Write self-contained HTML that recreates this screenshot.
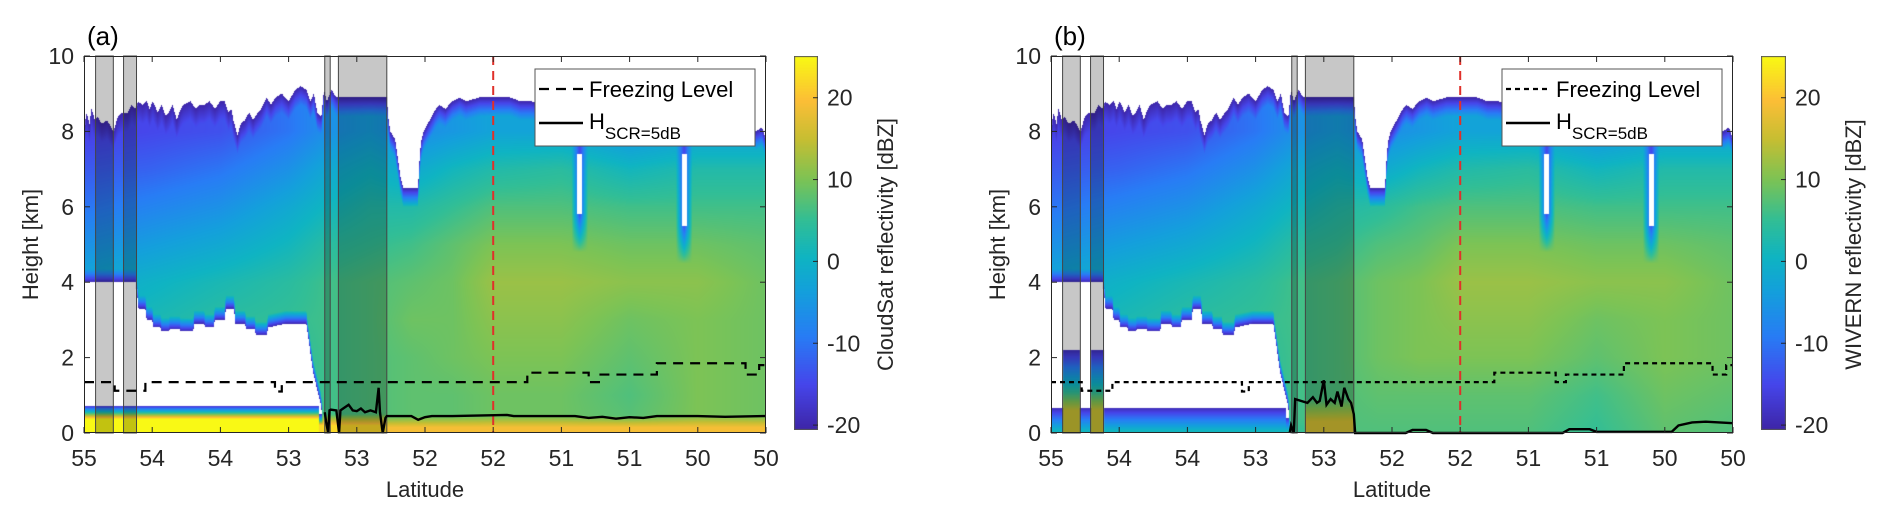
<!DOCTYPE html>
<html><head><meta charset="utf-8">
<style>
html,body{margin:0;padding:0;background:#fff;}
#wrap{position:relative;width:1892px;height:521px;overflow:hidden;font-family:"Liberation Sans",Arial,sans-serif;}
canvas{position:absolute;}
svg{position:absolute;left:0;top:0;}
</style></head>
<body>
<div id="wrap">
<canvas id="cvA"></canvas>
<canvas id="cvB"></canvas>
<canvas id="cbA"></canvas>
<canvas id="cbB"></canvas>
<svg id="sv" width="1892" height="521"></svg>
</div>
<script>
// ---------- data ----------
const xTickLat = [55,54.5,54,53.5,53,52.5,52,51.5,51,50.5,50];
const xTickLabels = ["55","54","54","53","53","52","52","51","51","50","50"];
const yTicks = [0,2,4,6,8,10];
const cbTicks = [20,10,0,-10,-20];
const redLineLat = 52;
// grey excluded bands [start, end] in latitude
const bandStart = [54.915,54.71,53.235,53.135];
const bandEnd   = [54.785,54.615,53.195,52.78];
// cloud top
const topLat = [55,54.98,54.96,54.945,54.92,54.9,54.87,54.83,54.785,54.75,54.72,54.68,54.65,54.62,54.605,54.57,54.54,54.52,54.495,54.46,54.43,54.4,54.38,54.35,54.32,54.29,54.27,54.22,54.18,54.15,54.12,54.08,54.04,54.0,53.97,53.94,53.92,53.905,53.89,53.875,53.85,53.82,53.79,53.76,53.745,53.7,53.66,53.63,53.595,53.55,53.5,53.45,53.41,53.37,53.34,53.315,53.29,53.26,53.24,53.22,53.185,53.15,53.11,52.78,52.77,52.755,52.72,52.7,52.68,52.66,52.55,52.545,52.53,52.51,52.48,52.45,52.42,52.395,52.35,52.3,52.245,52.2,52.1,52.0,51.9,51.875,51.8,51.725,51.6,51.5,50.75,50.2,50.12,50.075,50.03,50];
const topH   = [8.1,8.5,8.2,8.6,8.3,8.4,8.2,8.3,8.0,8.4,8.5,8.5,8.7,8.6,8.8,8.7,8.8,8.6,8.8,8.5,8.7,8.4,8.5,8.7,8.3,8.6,8.7,8.8,8.6,8.7,8.7,8.8,8.6,8.8,8.8,8.5,8.6,8.3,8.1,7.9,8.2,8.3,8.5,8.3,8.4,8.6,8.9,8.7,8.9,9.0,8.8,9.1,9.2,9.1,8.8,9.0,8.5,8.4,9.1,8.8,9.1,8.9,8.9,8.9,8.4,8.0,7.8,7.3,6.8,6.5,6.5,7.0,7.7,8.0,8.2,8.4,8.6,8.7,8.6,8.8,8.9,8.8,8.9,8.9,8.9,8.9,8.8,8.8,8.7,8.6,8.6,8.2,8.3,8.0,8.1,7.8];
// cloud base
const baseLat = [55,54.62,54.6,54.55,54.54,54.5,54.49,54.44,54.43,54.38,54.37,54.3,54.29,54.2,54.19,54.12,54.11,54.05,54.04,53.97,53.96,53.9,53.89,53.82,53.81,53.75,53.74,53.66,53.65,53.52,53.37,53.32,53.26,53.25,50];
const baseH   = [4.0,4.0,3.3,3.3,3.0,3.0,2.8,2.8,2.7,2.7,2.75,2.75,2.7,2.7,2.9,2.9,2.8,2.8,3.0,3.0,3.3,3.3,2.9,2.9,2.75,2.75,2.6,2.6,2.8,2.9,2.9,1.6,0.7,0,0];
// holes in cloud
const holeLat = [51.365,50.6];
const holeTop = [7.4,7.4];
const holeBot = [5.8,5.5];
// reflectivity knots
const zKnotH = [9,8,7,6,5,4,3,2,1,0];
const zLat = [55,54.5,54,53.5,53.2,52.9,52.6,52.3,52,51.5,51,50.5,50];
const zA = [
 [-16,-16,-13,-10,-6,-2,0,0,0,0],
 [-15,-15,-12,-8,-4,0,2,2,2,2],
 [-14,-14,-10,-6,-2,2,4,4,4,4],
 [-10,-10,-6,-2,1,4,5,4,4,4],
 [-6,-6,-2,1,4,6,6,6,6,6],
 [-4,-4,0,3,5,7,7,7,7,7],
 [-7,-7,-2,3,6,8,9,8,8,8],
 [-5,-5,1,5,8,9,9,9,8,8],
 [-3,-3,3,7,10,12,11,10,9,9],
 [-3,-3,4,7,10,12,11,10,9,9],
 [-6,-6,1,6,9,11,9,8,7,8],
 [-4,-4,3,6,9,11,10,10,10,10],
 [-4,-4,3,6,8,9,9,9,9,9]];
const zB = [
 [-16,-16,-13,-10,-6,-2,0,0,0,0],
 [-15,-15,-12,-8,-4,0,2,2,2,2],
 [-14,-14,-10,-6,-2,2,4,4,4,4],
 [-10,-10,-6,-2,1,4,5,4,4,4],
 [-6,-6,-2,1,4,6,6,6,6,6],
 [-4,-4,0,3,5,7,7,7,7,7],
 [-7,-7,-2,4,7,9,9,9,8,7],
 [-5,-5,1,6,8,10,10,10,8,7],
 [-3,-3,3,7,10,12,11,10,8,7],
 [-3,-3,4,7,10,12,11,10,8,7],
 [-6,-6,1,6,9,11,9,8,6,5],
 [-4,-4,3,6,9,11,10,10,9,8],
 [-4,-4,3,6,8,9,9,9,8,7]];
// surface / clutter (step functions starting at given latitude)
const clutLatA = [55,53.28,52.78];
const clutTopA = [0.72,0.5,0.45];
const clutValA = [25,22,19];
const clutTrA  = [0.35,0.3,0.3];
const clutLatB = [55,54.915,54.785,54.71,54.615,53.28,53.135,52.78];
const clutTopB = [0.65,2.2,0.65,2.2,0.65,0.4,0.9,0];
const clutValB = [1,15,1,15,1,5,16,0];
const clutTrB  = [0.6,1.6,0.6,1.6,0.6,0.4,0.6,0.1];
// freezing level (steps)
const flLat = [55,54.775,54.55,53.6,53.55,51.75,51.3,51.225,50.8,50.15,50.05,50];
const flH   = [1.35,1.12,1.35,1.1,1.35,1.6,1.35,1.55,1.85,1.55,1.8,1.8];
// H_SCR=5dB lines
const hLatA = [53.235,53.225,53.21,53.2,53.19,53.15,53.13,53.12,53.1,53.06,53.03,53.0,52.97,52.94,52.9,52.86,52.84,52.83,52.81,52.79,52.78,52.6,52.55,52.5,52.45,52.3,51.9,51.85,51.4,51.3,51.2,51.1,51.0,50.9,50.8,50.5,50.3,50.0];
const hValA = [0.55,0.3,0.0,0.6,0.62,0.6,0.0,0.6,0.65,0.75,0.6,0.58,0.65,0.55,0.6,0.55,1.2,0.55,0.0,0.4,0.45,0.45,0.35,0.42,0.45,0.45,0.48,0.45,0.45,0.4,0.43,0.38,0.42,0.4,0.45,0.45,0.43,0.45];
const hLatB = [53.25,53.24,53.22,53.21,53.12,53.08,53.05,53.03,53.0,52.98,52.95,52.92,52.9,52.87,52.85,52.82,52.8,52.78,52.77,52.4,52.35,52.25,52.2,51.25,51.2,51.05,51.0,50.45,50.4,50.3,50.2,50.0];
const hValB = [0.0,0.2,0.0,0.9,0.8,0.95,0.8,0.85,1.4,0.75,0.9,0.8,1.1,0.7,1.2,0.9,0.8,0.5,0.0,0.0,0.08,0.08,0.0,0.0,0.1,0.1,0.03,0.03,0.2,0.28,0.3,0.26];

// ---------- layout ----------
const T=56, B=433;
const PA={L:84,R:766,cbL:794,cbR:818,zmin:-20.6,zmax:25.1};
const PB={L:1051,R:1733,cbL:1761,cbR:1786,zmin:-20.6,zmax:25.1};
function xs(P,lat){return P.L+(55-lat)/5*(P.R-P.L);}
function ys(h){return B-h/10*(B-T);}
function latOf(P,x){return 55-(x-P.L)/(P.R-P.L)*5;}

const parula=[[0,62,38,168],[0.12,70,70,235],[0.25,40,125,245],[0.37,20,160,220],[0.46,15,180,195],[0.56,50,190,150],[0.67,125,195,85],[0.78,200,190,50],[0.88,252,190,55],[1,249,250,20]];
function cmap(t){t=Math.max(0,Math.min(1,t));for(let i=1;i<parula.length;i++){if(t<=parula[i][0]){const a=parula[i-1],b=parula[i],f=(t-a[0])/(b[0]-a[0]);return [a[1]+(b[1]-a[1])*f,a[2]+(b[2]-a[2])*f,a[3]+(b[3]-a[3])*f];}}return parula[parula.length-1].slice(1);}
function interpDesc(xa,ya,x){
  if(x>=xa[0])return ya[0]; for(let i=1;i<xa.length;i++){if(x>=xa[i]){const f=(xa[i-1]-x)/(xa[i-1]-xa[i]);return ya[i-1]+(ya[i]-ya[i-1])*f;}} return ya[ya.length-1];}
function stepIdx(xa,x){let k=0;for(let i=0;i<xa.length;i++){if(x<=xa[i])k=i;}return k;}

function drawHeat(id,P,Z,cLat,cTop,cVal,cTr){
  const W=P.R-P.L,H=B-T,cv=document.getElementById(id);
  cv.width=W;cv.height=H;cv.style.left=P.L+'px';cv.style.top=T+'px';
  const ctx=cv.getContext('2d'),img=ctx.createImageData(W,H),d=img.data;
  for(let px=0;px<W;px++){
    const lat=latOf(P,P.L+px+0.5);
    const top=interpDesc(topLat,topH,lat), base=interpDesc(baseLat,baseH,lat);
    const col=zKnotH.map((_,k)=>interpDesc(zLat,Z.map(r=>r[k]),lat));
    const ci=stepIdx(cLat,lat), ct=cTop[ci], cvv=cVal[ci], ctr=cTr[ci];
    let inHole=-1,near=-1,nd=1;
    for(let j=0;j<holeLat.length;j++){const dl=Math.abs(lat-holeLat[j]);if(dl<0.019)inHole=j;if(dl<0.06){near=j;nd=dl/0.06;}}
    for(let py=0;py<H;py++){
      const h=(B-(T+py+0.5))/(B-T)*10;
      let cloud = h<=top && h>=base;
      if(inHole>=0 && h<holeTop[inHole] && h>holeBot[inHole]) cloud=false;
      let z=null;
      if(cloud){
        let kk=Math.min(8,Math.max(0,Math.floor(9-h)));
        const f=(zKnotH[kk]-h);z=col[kk]+(col[kk+1]-col[kk])*f;
        const dt=top-h; if(dt<0.5) z=-20.5+(z+20.5)*(dt/0.5);
        if(base>0.1){const db=h-base; if(db<0.35) z=-20+(z+20)*(db/0.35);}
        if(near>=0){
          let vf=1;
          if(h<holeBot[near]) vf=Math.max(0,1-(holeBot[near]-h)/1.0);
          const w=(1-nd)*vf*0.9;
          z=z+(-17-z)*w;
        }
      }
      if(h<ct){const t=Math.min(1,(ct-h)/ctr);const b0=(z===null)?-19:z;z=b0+(cvv-b0)*t;}
      const o=(py*W+px)*4;
      if(z===null){d[o]=255;d[o+1]=255;d[o+2]=255;d[o+3]=255;}
      else{const c=cmap((z-P.zmin)/(P.zmax-P.zmin));d[o]=c[0];d[o+1]=c[1];d[o+2]=c[2];d[o+3]=255;}
    }
  }
  ctx.putImageData(img,0,0);
}
function drawCb(id,P){
  const cv=document.getElementById(id),W=P.cbR-P.cbL,H=B-3-T;
  cv.width=W;cv.height=H;cv.style.left=P.cbL+'px';cv.style.top=T+'px';
  const ctx=cv.getContext('2d');
  for(let y=0;y<H;y++){const c=cmap(1-y/(H-1));ctx.fillStyle=`rgb(${c[0]|0},${c[1]|0},${c[2]|0})`;ctx.fillRect(0,y,W,1);}
  ctx.strokeStyle='#555';ctx.lineWidth=1;ctx.strokeRect(0.5,0.5,W-1,H-1);
}
drawHeat('cvA',PA,zA,clutLatA,clutTopA,clutValA,clutTrA);
drawHeat('cvB',PB,zB,clutLatB,clutTopB,clutValB,clutTrB);
drawCb('cbA',PA);drawCb('cbB',PB);

// ---------- SVG overlay ----------
const NS='http://www.w3.org/2000/svg',sv=document.getElementById('sv');
function mk(tag,attrs,parent,text){const e=document.createElementNS(NS,tag);for(const k in attrs)e.setAttribute(k,attrs[k]);if(text!==undefined)e.textContent=text;(parent||sv).appendChild(e);return e;}
function panel(P,tag,cbTitle,dashPattern){
  const g=mk('g',{});
  
  
  for(let i=0;i<bandStart.length;i++){
    const x1=xs(P,bandStart[i]),x2=xs(P,bandEnd[i]);
    const r=mk('rect',{x:x1,y:T,width:x2-x1,height:B-T,fill:'rgba(0,0,0,0.22)',stroke:'#444','stroke-width':1},g);
    
    
  }
  const rl=mk('line',{x1:xs(P,redLineLat),x2:xs(P,redLineLat),y1:T,y2:B,stroke:'#e0302a','stroke-width':2,'stroke-dasharray':'9,6'},g);
  
  
  let d='';
  for(let i=0;i<flLat.length;i++){const x=xs(P,flLat[i]),y=ys(flH[i]);if(i===0)d+=`M${x},${y}`;else{d+=`L${x},${ys(flH[i-1])}L${x},${y}`;}}
  d+=`L${P.R},${ys(flH[flH.length-1])}`;
  const fl=mk('path',{d:d,fill:'none',stroke:'#000','stroke-width':2.2,'stroke-dasharray':dashPattern},g);
  
  
  const hl=(tag==='a')?[hLatA,hValA]:[hLatB,hValB];
  let d2='';
  for(let i=0;i<hl[0].length;i++){d2+=(i?'L':'M')+xs(P,hl[0][i])+','+ys(hl[1][i]);}
  const hs=mk('path',{d:d2,fill:'none',stroke:'#000','stroke-width':2.4},g);
  
  
  const ax=mk('rect',{x:P.L+0.5,y:T+0.5,width:P.R-P.L-1,height:B-T-1,fill:'none',stroke:'#262626','stroke-width':1},g);
  
  
  for(let i=0;i<xTickLat.length;i++){
    const x=xs(P,xTickLat[i]);
    mk('line',{x1:x,x2:x,y1:B,y2:B-6,stroke:'#262626'},g);
    mk('line',{x1:x,x2:x,y1:T,y2:T+6,stroke:'#262626'},g);
    const t=mk('text',{x:x,y:466,'text-anchor':'middle','font-size':23,fill:'#262626'},g,xTickLabels[i]);
    
    
  }
  for(let i=0;i<yTicks.length;i++){
    const y=ys(yTicks[i]);
    mk('line',{x1:P.L,x2:P.L+6,y1:y,y2:y,stroke:'#262626'},g);
    mk('line',{x1:P.R,x2:P.R-6,y1:y,y2:y,stroke:'#262626'},g);
    const t=mk('text',{x:P.L-10,y:y+8,'text-anchor':'end','font-size':23,fill:'#262626'},g,String(yTicks[i]));
    
    
  }
  const xt=mk('text',{x:(P.L+P.R)/2,y:497,'text-anchor':'middle','font-size':22,fill:'#262626'},g,'Latitude');
  
  
  const yt=mk('text',{x:0,y:0,'text-anchor':'middle','font-size':22,fill:'#262626',transform:`translate(${P.L-46},${(T+B)/2}) rotate(-90)`},g,'Height [km]');
  
  
  const pl=mk('text',{x:P.L+3,y:45,'font-size':26,fill:'#000'},g,'('+tag+')');
  
  
  const cbH=B-3-T;
  for(let i=0;i<cbTicks.length;i++){
    const y=T+(P.zmax-cbTicks[i])/(P.zmax-P.zmin)*cbH;
    mk('line',{x1:P.cbR-5,x2:P.cbR,y1:y,y2:y,stroke:'#262626'},g);
    const t=mk('text',{x:P.cbR+9,y:y+8,'font-size':23,fill:'#262626'},g,String(cbTicks[i]));
    
    
  }
  const ct=mk('text',{x:0,y:0,'text-anchor':'middle','font-size':22,fill:'#262626',transform:`translate(${P.cbR+75},${(T+B)/2}) rotate(-90)`},g,cbTitle);
  
  
  const lx=P.R-231,ly=69;
  const lg=mk('g',{},g);
  
  
  mk('rect',{x:lx,y:ly,width:220,height:77,fill:'#fff',stroke:'#555','stroke-width':1},lg);
  const e1=mk('g',{},lg);
  
  
  mk('line',{x1:lx+4,x2:lx+48,y1:ly+20,y2:ly+20,stroke:'#000','stroke-width':2.2,'stroke-dasharray':dashPattern},e1);
  mk('text',{x:lx+54,y:ly+28,'font-size':22,fill:'#000'},e1,'Freezing Level');
  const e2=mk('g',{},lg);
  
  
  mk('line',{x1:lx+4,x2:lx+48,y1:ly+54,y2:ly+54,stroke:'#000','stroke-width':2.4},e2);
  const tx=mk('text',{x:lx+54,y:ly+60,'font-size':22,fill:'#000'},e2);
  mk('tspan',{},tx,'H');
  mk('tspan',{dy:10,'font-size':17},tx,'SCR=5dB');
}
panel(PA,'a','CloudSat reflectivity [dBZ]','10,7');
panel(PB,'b','WIVERN reflectivity [dBZ]','5,4');
</script>
</body></html>
